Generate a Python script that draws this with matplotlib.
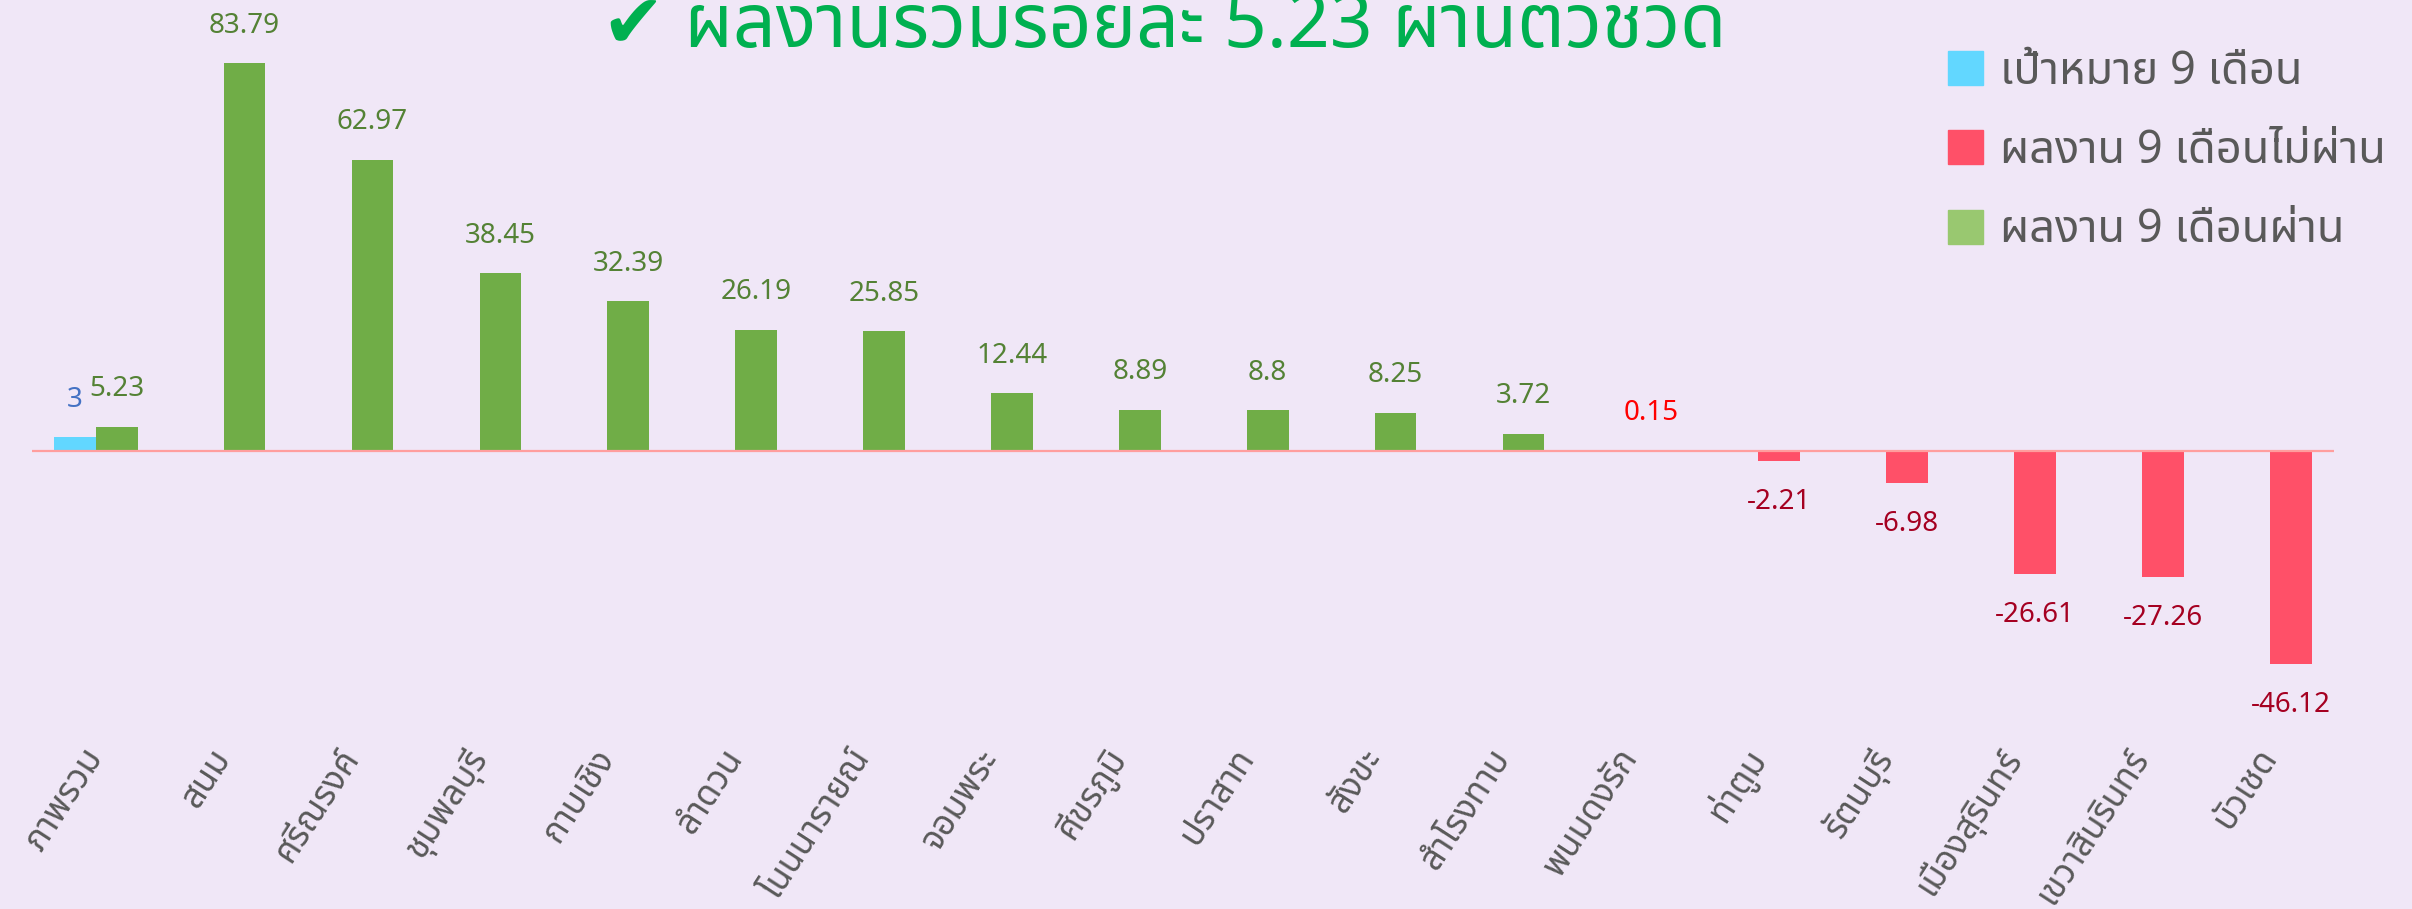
import matplotlib
matplotlib.use('Agg')
import numpy as np
import matplotlib.pyplot as plt
from matplotlib import font_manager, ft2font
from matplotlib.patches import Patch

# %% data
districts = ['ภาพรวม', 'สนม', 'ศรีณรงค์', 'ชุมพลบุรี', 'กาบเชิง', 'ลำดวน', 'โนนนารายณ์',
             'จอมพระ', 'ศีขรภูมิ', 'ปราสาท', 'สังขะ', 'สำโรงทาบ', 'พนมดงรัก', 'ท่าตูม',
             'รัตนบุรี', 'เมืองสุรินทร์', 'เขวาสินรินทร์', 'บัวเชด']
result = [5.23, 83.79, 62.97, 38.45, 32.39, 26.19, 25.85, 12.44, 8.89, 8.8, 8.25,
          3.72, 0.15, -2.21, -6.98, -26.61, -27.26, -46.12]
target = [3] + [np.nan] * 17
passed = [True] * 12 + [False] * 6

title = '✔ ผลงานรวมร้อยละ 5.23 ผ่านตัวชี้วัด'
legend_labels = ['เป้าหมาย 9 เดือน', 'ผลงาน 9 เดือนไม่ผ่าน', 'ผลงาน 9 เดือนผ่าน']

# %% font with thai glyphs
def has_thai(path):
    try:
        return 0x0E01 in ft2font.FT2Font(path).get_charmap()
    except Exception:
        return False

thai_fonts = sorted({f.name for f in font_manager.fontManager.ttflist if has_thai(f.fname)})
pref = ['Tahoma', 'Leelawadee UI', 'Noto Sans Thai', 'Noto Sans Thai UI', 'Loma',
        'Garuda', 'Sarabun', 'Kinnari']
thai = next((p for p in pref if p in thai_fonts), thai_fonts[0] if thai_fonts else 'DejaVu Sans')
fam = [thai, 'DejaVu Sans']
plt.rcParams['font.family'] = fam

# %% colors
bg = '#F0E7F7'
c_target, c_fail, c_pass = '#62D7FF', '#FF5068', '#70AD47'
leg_colors = ['#62D7FF', '#FF5068', '#99C870']

W, H = 2412, 909
fig = plt.figure(figsize=(W / 100, H / 100), dpi=100, facecolor=bg)
ax = fig.add_axes([32 / W, 1 - 730 / H, (2334 - 32) / W, 730 / H])
ax.set_facecolor(bg)

x = np.arange(len(districts))
w = 0.325
bar_col = [c_pass if p else c_fail for p in passed]
ax.bar(x - w / 2, target, w, color=c_target)
ax.bar(x + w / 2, result, w, color=bar_col)
ax.axhline(0, color='#FF9E9E', lw=1.6)

ax.set_xlim(-0.5, len(districts) - 0.5)
ax.set_ylim(-60.3, 97.47)

# value labels
for xi, t in zip(x, target):
    if not np.isnan(t):
        ax.annotate(f'{t:g}', (xi - w / 2, t), xytext=(0, 22), textcoords='offset points',
                    ha='center', va='baseline', fontsize=20, color='#4472C4')
for xi, v, p in zip(x, result, passed):
    if v >= 0:
        col = '#548235' if p else '#FF0000'
        ax.annotate(f'{v:g}', (xi + w / 2, v), xytext=(0, 22), textcoords='offset points',
                    ha='center', va='baseline', fontsize=20, color=col)
    else:
        ax.annotate(f'{v:g}', (xi + w / 2, v), xytext=(0, -19), textcoords='offset points',
                    ha='center', va='top', fontsize=20, color='#A50021')

ax.set_xticks(x)
ax.set_xticklabels(districts, rotation=57, ha='right', va='center', rotation_mode='anchor',
                   fontsize=25, color='#595959')
ax.tick_params(axis='x', length=0, pad=16)
ax.set_yticks([])
for s in ax.spines.values():
    s.set_visible(False)

# title is cropped at the top edge, as in the source image
fig.text(0.5 - 42 / W, 1 - 47 / H, title, ha='center', va='baseline', fontsize=54,
         color='#00B050', family=fam)

handles = [Patch(color=c) for c in leg_colors]
fig.legend(handles, legend_labels, loc='upper left', bbox_to_anchor=(1907 / W, 1 - 8 / H),
           frameon=False, fontsize=32.5, labelcolor='#595959', handlelength=0.78,
           handleheight=0.78, handletextpad=0.38, labelspacing=0.74)

fig.savefig('out.png', dpi=100, facecolor=bg)
